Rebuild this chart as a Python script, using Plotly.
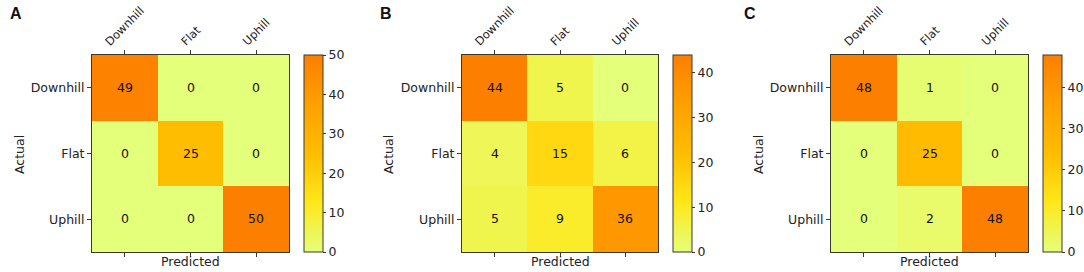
import plotly.graph_objects as go

categories = ["Downhill", "Flat", "Uphill"]
panel_labels = ["A", "B", "C"]
cm_a = [[49, 0, 0], [0, 25, 0], [0, 0, 50]]
cm_b = [[44, 5, 0], [4, 15, 6], [5, 9, 36]]
cm_c = [[48, 1, 0], [0, 25, 0], [0, 2, 48]]
matrices = [cm_a, cm_b, cm_c]

W, H = 1084, 272
wistia = [[0.0, "#e4ff7a"], [0.25, "#ffe81a"], [0.5, "#ffbd00"], [0.75, "#ffa000"], [1.0, "#fc7f00"]]

# pixel layout per panel: heatmap left, right, colorbar left
hm_x = [(92, 289), (462, 658), (831, 1028)]
cb_x = [304, 673, 1043]
top_px, bot_px = 55, 252
actual_x = [19, 388, 758]
letter_x = [8, 378, 742]

FONT = "DejaVu Sans"
frame = "#3a3a2a"
txtc = "#222222"

fig = go.Figure()
for i, cm in enumerate(matrices):
    xa = "x" if i == 0 else f"x{i+1}"
    ya = "y" if i == 0 else f"y{i+1}"
    zmax = max(max(r) for r in cm)
    fig.add_trace(go.Heatmap(
        z=cm, x=categories, y=categories, xaxis=xa, yaxis=ya,
        zmin=0, zmax=zmax, colorscale=wistia,
        text=cm, texttemplate="%{text}",
        textfont=dict(family=FONT, size=12.5, color="#111111"),
        hoverinfo="skip",
        colorbar=dict(
            x=cb_x[i] / W, xanchor="left", xref="paper",
            y=1 - bot_px / H, yanchor="bottom",
            lenmode="pixels", len=bot_px - top_px,
            thicknessmode="pixels", thickness=19,
            outlinecolor=frame, outlinewidth=1,
            tickvals=list(range(0, zmax + 1, 10)),
            ticks="outside", ticklen=3, tickcolor=frame,
            tickfont=dict(family=FONT, size=12.5, color=txtc),
            xpad=0, ypad=0,
        ),
    ))
    x0, x1 = hm_x[i]
    sfx = "" if i == 0 else str(i + 1)
    fig.layout[f"xaxis{sfx}"] = dict(
        domain=[x0 / W, x1 / W], anchor=ya, side="top", automargin=False,
        showticklabels=False, ticks="outside", ticklen=4, tickcolor=frame,
        showline=True, linecolor=frame, linewidth=1, mirror="ticks",
        showgrid=False, zeroline=False, fixedrange=True,
    )
    fig.layout[f"yaxis{sfx}"] = dict(
        domain=[1 - bot_px / H, 1 - top_px / H], anchor=xa, automargin=False,
        autorange="reversed", ticks="outside", ticklen=4, tickcolor=frame,
        showline=True, linecolor=frame, linewidth=1, mirror=True,
        tickfont=dict(family=FONT, size=12.5, color=txtc),
        showgrid=False, zeroline=False, fixedrange=True,
    )
    for c in categories:
        fig.add_annotation(text=c, x=c, xref=xa, y=1 - 50 / H, yref="paper",
                           xanchor="center", yanchor="bottom", textangle=-45,
                           borderpad=0, showarrow=False,
                           font=dict(family=FONT, size=11.5, color=txtc))
    fig.add_annotation(text="Predicted", x=(x0 + x1) / 2 / W, y=1 - 261 / H,
                       xref="paper", yref="paper", showarrow=False,
                       xanchor="center", yanchor="middle",
                       font=dict(family=FONT, size=12.5, color=txtc))
    fig.add_annotation(text="Actual", x=actual_x[i] / W, y=1 - 155 / H,
                       xref="paper", yref="paper", showarrow=False, textangle=-90,
                       xanchor="center", yanchor="middle",
                       font=dict(family=FONT, size=12.5, color=txtc))
    fig.add_annotation(text="<b>" + panel_labels[i] + "</b>", x=letter_x[i] / W, y=1 - 13 / H,
                       xref="paper", yref="paper", showarrow=False,
                       xanchor="left", yanchor="middle",
                       font=dict(family="Liberation Sans", size=16, color="#111111"))

fig.update_layout(width=W, height=H, margin=dict(l=0, r=0, t=0, b=0, autoexpand=False),
                  paper_bgcolor="white", plot_bgcolor="white")
fig.write_html("out.html", config={"displayModeBar": False},
               post_script="document.body.style.margin='0';document.body.style.overflow='hidden';")
